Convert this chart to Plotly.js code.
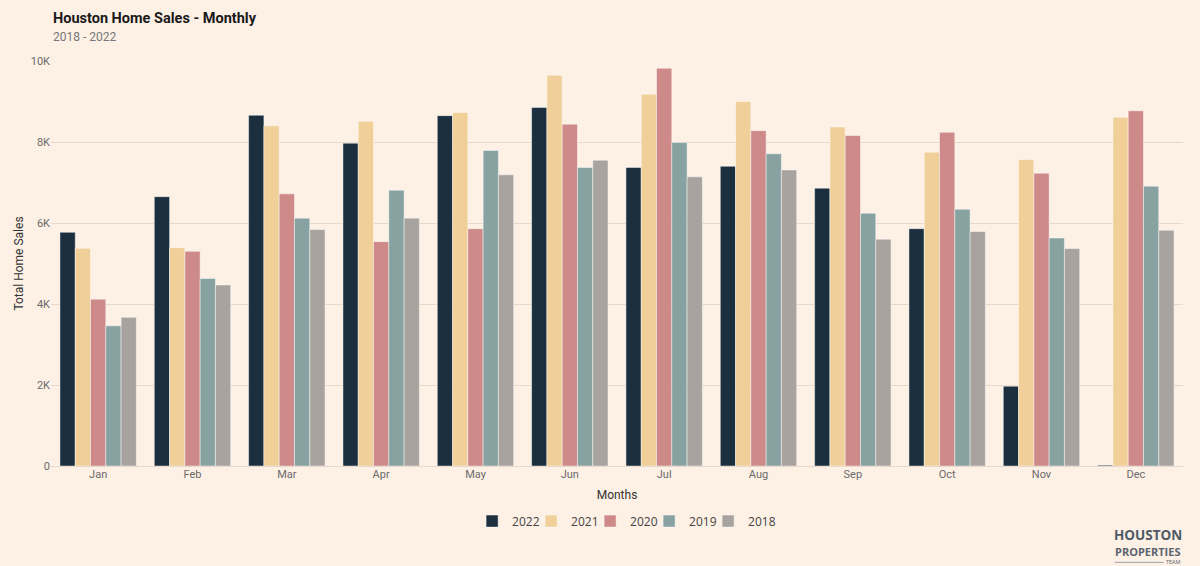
<!DOCTYPE html>
<html>
<head>
<meta charset="utf-8">
<script src="https://cdn.plot.ly/plotly-3.0.1.min.js"></script>
<style>html,body{margin:0;padding:0;background:#fdf0e5;}#chart{width:1200px;height:566px;}</style>
</head>
<body>
<div id="chart"></div>
<script>
const months = ["Jan","Feb","Mar","Apr","May","Jun","Jul","Aug","Sep","Oct","Nov","Dec"];
const years = ["2022","2021","2020","2019","2018"];
const sales2022 = [5770,6650,8660,7970,8650,8850,7370,7400,6860,5860,1970,20];
const sales2021 = [5375,5390,8400,8510,8730,9650,9180,9000,8370,7750,7570,8610];
const sales2020 = [4120,5300,6720,5540,5860,8440,9820,8280,8160,8240,7230,8770];
const sales2019 = [3460,4630,6120,6810,7790,7370,7990,7710,6240,6340,5630,6910];
const sales2018 = [3670,4470,5840,6120,7190,7550,7140,7310,5600,5790,5370,5820];
const seriesValues = [sales2022, sales2021, sales2020, sales2019, sales2018];
const colors = ["#1b2f3e","#f0cf98","#cd8a89","#88a2a2","#a8a39e"];

const traces = years.map((y, i) => ({
  type: "bar",
  name: y,
  x: months,
  y: seriesValues[i],
  marker: {color: colors[i], line: {color: "rgba(255,255,255,0.45)", width: 1}},
  hovertemplate: "%{x} " + y + ": %{y}<extra></extra>"
}));
// spacer legend entry (no data) so the last legend label is not clipped
traces.push({
  type: "scatter", mode: "markers", name: " ", x: [null], y: [null],
  marker: {color: "rgba(0,0,0,0)", size: 1}, hoverinfo: "skip"
});

const tickFont = {family: "Roboto, 'Open Sans', sans-serif", size: 11, color: "#6b6b6b"};

const layout = {
  width: 1200, height: 566,
  paper_bgcolor: "#fdf0e5",
  plot_bgcolor: "#fdf0e5",
  margin: {l: 51, r: 17, t: 61, b: 100},
  barmode: "group",
  bargap: 0.19,
  bargroupgap: 0,
  showlegend: true,
  legend: {
    orientation: "h", x: 0.372, xanchor: "left", y: -0.136, yanchor: "middle",
    font: {family: "'Open Sans', sans-serif", size: 12, color: "#444"},
    itemwidth: 30, traceorder: "normal",
    entrywidth: 14, entrywidthmode: "pixels",
    bgcolor: "rgba(0,0,0,0)"
  },
  xaxis: {
    type: "category",
    tickfont: tickFont,
    showgrid: false,
    showline: false,
    ticks: "",
    title: {text: "Months", font: {family: "Roboto, 'Open Sans', sans-serif", size: 12, color: "#333"}, standoff: 10}
  },
  yaxis: {
    range: [0, 10000],
    tickvals: [0, 2000, 4000, 6000, 8000, 10000],
    ticktext: ["0", "2K", "4K", "6K", "8K", "10K"],
    tickfont: tickFont,
    gridcolor: "#e6d9cc",
    gridwidth: 1,
    zeroline: true,
    zerolinecolor: "#e6d9cc",
    showline: false,
    ticks: "",
    ticklen: 0,
    title: {text: "Total Home Sales", font: {family: "Roboto, 'Open Sans', sans-serif", size: 12, color: "#333"}, standoff: 4}
  },
  annotations: [
    {text: "<b>Houston Home Sales - Monthly</b>", xref: "paper", yref: "paper", x: 0, y: 1.106, xanchor: "left", yanchor: "middle", showarrow: false,
     font: {family: "Roboto, 'Open Sans', sans-serif", size: 14.5, color: "#1a1a1a"}},
    {text: "2018 - 2022", xref: "paper", yref: "paper", x: 0, y: 1.059, xanchor: "left", yanchor: "middle", showarrow: false,
     font: {family: "Roboto, 'Open Sans', sans-serif", size: 12, color: "#777"}},
    {text: "<b>HOUSTON</b>", xref: "paper", yref: "paper", x: 0.969, y: -0.1704, xanchor: "center", yanchor: "middle", showarrow: false,
     font: {family: "'Open Sans', sans-serif", size: 13.5, color: "#4f5b66"}},
    {text: "<b>PROPERTIES</b>", xref: "paper", yref: "paper", x: 0.969, y: -0.2123, xanchor: "center", yanchor: "middle", showarrow: false,
     font: {family: "'Open Sans', sans-serif", size: 11, color: "#5a6570"}},
    {text: "TEAM", xref: "paper", yref: "paper", x: 1.0, y: -0.238, xanchor: "right", yanchor: "middle", showarrow: false,
     font: {family: "'Open Sans', sans-serif", size: 5.5, color: "#5a6570"}}
  ],
  shapes: [
    {type: "line", xref: "paper", yref: "paper", x0: 0.94, x1: 0.983, y0: -0.238, y1: -0.238, line: {color: "#9aa3ab", width: 1}}
  ]
};

Plotly.newPlot("chart", traces, layout, {displayModeBar: false, staticPlot: true});
</script>
</body>
</html>
